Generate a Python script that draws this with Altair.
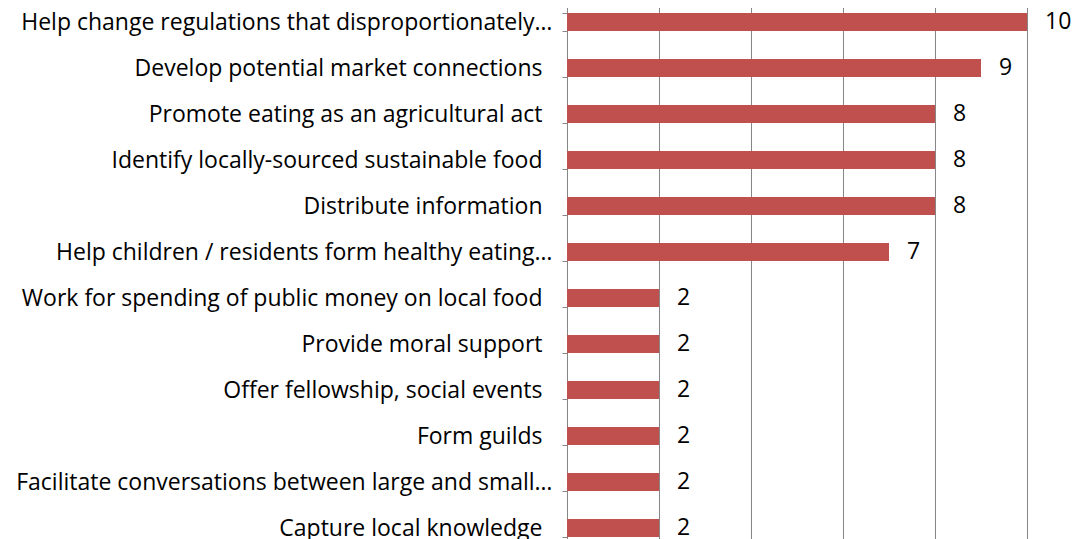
import altair as alt
import pandas as pd

categories = [
    "Help change regulations that disproportionately…",
    "Develop potential market connections",
    "Promote eating as an agricultural act",
    "Identify locally-sourced sustainable food",
    "Distribute information",
    "Help children / residents form healthy eating…",
    "Work for spending of public money on local food",
    "Provide moral support",
    "Offer fellowship, social events",
    "Form guilds",
    "Facilitate conversations between large and small…",
    "Capture local knowledge",
]
values = [10, 9, 8, 8, 8, 7, 2, 2, 2, 2, 2, 2]

df = pd.DataFrame({"category": categories, "value": values})

FONT = "Open Sans"
FS = 23
GRAY = "#868686"

y_enc = alt.Y(
    "category:N",
    sort=categories,
    title=None,
    scale=alt.Scale(paddingInner=0.61, paddingOuter=0.305),
    axis=alt.Axis(
        tickBand="extent",
        tickSize=5,
        tickColor=GRAY,
        domainColor=GRAY,
        labelFont=FONT,
        labelFontSize=FS,
        labelColor="black",
        labelLimit=800,
        labelPadding={"condition": {"test": r"test(/\u2026$/, datum.value)", "value": 10}, "value": 20},
        grid=False,
    ),
)
x_enc = alt.X(
    "value:Q",
    title=None,
    scale=alt.Scale(domain=[0, 10], nice=False),
    axis=alt.Axis(
        values=[0, 2, 4, 6, 8, 10],
        grid=True,
        gridColor=GRAY,
        gridOpacity=1,
        domain=False,
        ticks=False,
        labels=False,
    ),
)

bars = alt.Chart(df).mark_bar(color="#C0504D").encode(x=x_enc, y=y_enc)
text = alt.Chart(df).mark_text(
    align="left", baseline="middle", dx=18, font=FONT, fontSize=FS, color="black"
).encode(x=alt.X("value:Q"), y=alt.Y("category:N", sort=categories), text="value:Q")

chart = (
    alt.layer(bars, text)
    .properties(
        width=460,
        height=552,
        autosize=alt.AutoSizeParams(type="none"),
        padding={"left": 559, "top": -9, "right": 45, "bottom": -12},
    )
    .configure_view(stroke=None)
    .configure(background="white")
)

chart.save("out.html", embed_options={"renderer": "svg", "actions": False})
